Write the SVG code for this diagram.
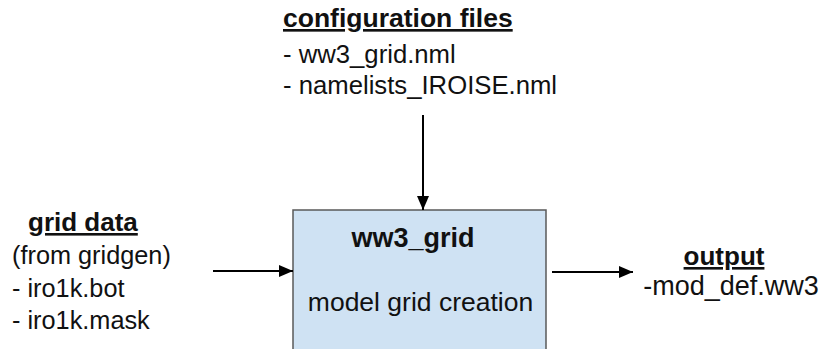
<svg xmlns="http://www.w3.org/2000/svg" width="821" height="349" viewBox="0 0 821 349">
<defs>
<style>
text{font-family:"Liberation Sans",Arial,sans-serif;fill:#111;}
.t{font-size:26px;font-weight:bold;text-decoration:underline;}
.b{font-size:25.5px;}
.h{font-size:27px;font-weight:bold;}
.c{stroke:#000;stroke-width:2;fill:none;}
</style>
<marker id="ah" markerWidth="14" markerHeight="12" refX="14" refY="6" orient="auto" markerUnits="userSpaceOnUse" viewBox="0 0 14 12">
<path d="M0,0 L14,6 L0,12 z" fill="#000"/>
</marker>
</defs>
<rect width="821" height="349" fill="#fff"/>
<g id="config">
<text class="t" x="283" y="27" style="font-size:26.5px">configuration files</text>
<text class="b" x="283" y="63" style="font-size:25.7px">- ww3_grid.nml</text>
<text class="b" x="283" y="94" style="font-size:25.7px">- namelists_IROISE.nml</text>
</g>
<g id="griddata">
<text class="t" x="28" y="231">grid data</text>
<text class="b" x="12" y="264" style="font-size:25.3px">(from gridgen)</text>
<text class="b" x="12" y="297" style="font-size:25.3px">- iro1k.bot</text>
<text class="b" x="12" y="329" style="font-size:25.3px">- iro1k.mask</text>
</g>
<g id="ww3grid">
<rect x="293" y="210" width="253" height="150" fill="#cfe2f3" stroke="#595959" stroke-width="1.5"/>
<text class="h" x="413" y="247" text-anchor="middle">ww3_grid</text>
<text class="b" x="420.5" y="311" text-anchor="middle" style="font-size:26.5px">model grid creation</text>
</g>
<g id="output">
<text class="t" x="724" y="265" text-anchor="middle">output</text>
<text class="b" x="731" y="295" text-anchor="middle" style="font-size:27px">-mod_def.ww3</text>
</g>
<g id="connectors">
<line class="c" x1="423" y1="115" x2="423" y2="210" marker-end="url(#ah)"/>
<line class="c" x1="213" y1="271" x2="293" y2="271" marker-end="url(#ah)"/>
<line class="c" x1="552" y1="272" x2="633" y2="272" marker-end="url(#ah)"/>
</g>
</svg>
